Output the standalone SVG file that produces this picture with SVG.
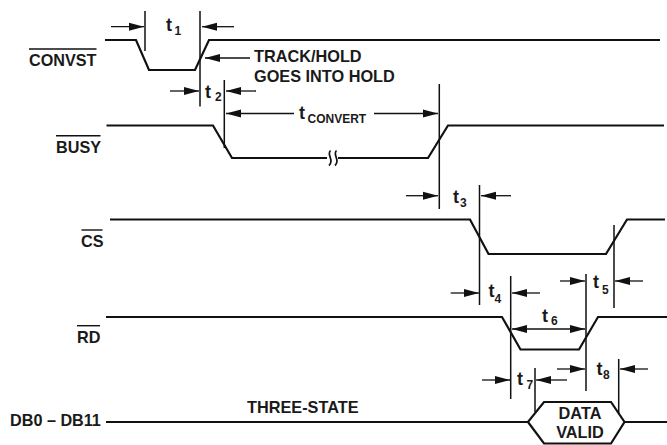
<svg xmlns="http://www.w3.org/2000/svg" width="667" height="445" viewBox="0 0 667 445">
<style>
text{font-family:"Liberation Sans",Arial,sans-serif;font-weight:700;fill:#1a1a1a}
.lb{font-size:16.200px}
.n{font-size:16.300px}
.t{font-size:18px}
.s{font-size:12px}
.sig{fill:none;stroke:#111;stroke-width:2.200;stroke-linejoin:miter}
.bar{stroke:#111;stroke-width:1.400;fill:none}
.v{stroke:#111;stroke-width:1.500;fill:none}
.a{stroke:#111;stroke-width:1.300;fill:none;marker-end:url(#h)}
.d{stroke:#111;stroke-width:1.300;fill:none;marker-end:url(#h);marker-start:url(#hs)}
</style>
<defs>
<marker id="h" markerUnits="userSpaceOnUse" markerWidth="16" markerHeight="10" refX="15" refY="5" orient="auto"><path d="M0 1L15 5L0 9Z" fill="#111"/></marker>
<marker id="hs" markerUnits="userSpaceOnUse" markerWidth="16" markerHeight="10" refX="0" refY="5" orient="auto"><path d="M15 1L0 5L15 9Z" fill="#111"/></marker>
</defs>
<rect width="667" height="445" fill="#fff"/>
<g id="convst">
<path class="sig" d="M105 40H136L149 70H195L209 40H660"/>
<path class="bar" d="M29 49H96.500"/>
<text class="lb" x="29" y="66">CONVST</text>
</g>
<g id="busy">
<path class="sig" d="M106.500 125.500H213L232 158H327M338 158H428L448 125.500H664"/>
<path d="M330.500 150.500C326 155 335 160 329 165.500M336.500 150.500C332 155 341 160 335 165.500" fill="none" stroke="#111" stroke-width="1.700"/>
<path class="bar" d="M56 135.700H100.500"/>
<text class="lb" x="56" y="153">BUSY</text>
</g>
<g id="cs">
<path class="sig" d="M110 219.500H470L488.500 254H606L627 219.500H665"/>
<path class="bar" d="M81.500 230H102.500"/>
<text class="lb" x="81" y="246.500">CS</text>
</g>
<g id="rd">
<path class="sig" d="M106 317H502L520.500 349.500H579L598 317H667"/>
<path class="bar" d="M77 325.700H100"/>
<text class="lb" x="77" y="343">RD</text>
</g>
<g id="db">
<path class="sig" d="M106 422H528L544 402H611L624.500 422L611 443.500H544L528 422M624.500 422H667"/>
<text class="lb" x="10" y="426">DB0 – DB11</text>
<text class="n" x="247" y="412.700">THREE-STATE</text>
<text class="n" x="580" y="419" text-anchor="middle">DATA</text>
<text class="n" x="580" y="438" text-anchor="middle">VALID</text>
</g>
<g id="connectors">
<path class="v" d="M145 11V51M200 11V106.500M224.300 80V148M439.300 84V209M479.500 185V305M510.700 276V399M586 274V391M614 225V308M535 368V412M618.700 359V414"/>
<path class="a" d="M111 26.700H144"/><path class="a" d="M234 26.700H202"/>
<path class="a" d="M250 58H205"/>
<path class="a" d="M170 91H199"/><path class="a" d="M256 91H226"/>
<path class="a" d="M294 113.500H226"/><path class="a" d="M374 113.500H438"/>
<path class="a" d="M406 195.700H438"/><path class="a" d="M511 195.700H481"/>
<path class="a" d="M450.700 293H479"/><path class="a" d="M540 293H512"/>
<path class="a" d="M560 281H585"/><path class="a" d="M643 281H615"/>
<path class="d" d="M512 329H585"/>
<path class="a" d="M482 380H510"/><path class="a" d="M567 380H536"/>
<path class="a" d="M557 369H585"/><path class="a" d="M648 369H620"/>
</g>
<g id="labels">
<text class="n" x="254" y="62">TRACK/HOLD</text>
<text class="n" x="254" y="81.500">GOES INTO HOLD</text>
<text class="t" x="166" y="31">t</text><text class="s" x="174.500" y="34.500">1</text>
<text class="t" x="205" y="98.300">t</text><text class="s" x="215" y="101">2</text>
<text class="t" x="299" y="119">t</text><text class="s" x="307.500" y="122.700">CONVERT</text>
<text class="t" x="453" y="202.700">t</text><text class="s" x="460" y="206.700">3</text>
<text class="t" x="488.500" y="297">t</text><text class="s" x="494.500" y="302.700">4</text>
<text class="t" x="593" y="288">t</text><text class="s" x="602" y="294">5</text>
<text class="t" x="542" y="321.700">t</text><text class="s" x="551" y="325">6</text>
<text class="t" x="517" y="385">t</text><text class="s" x="526.500" y="388.700">7</text>
<text class="t" x="596.500" y="375">t</text><text class="s" x="603" y="379">8</text>
</g>
</svg>
